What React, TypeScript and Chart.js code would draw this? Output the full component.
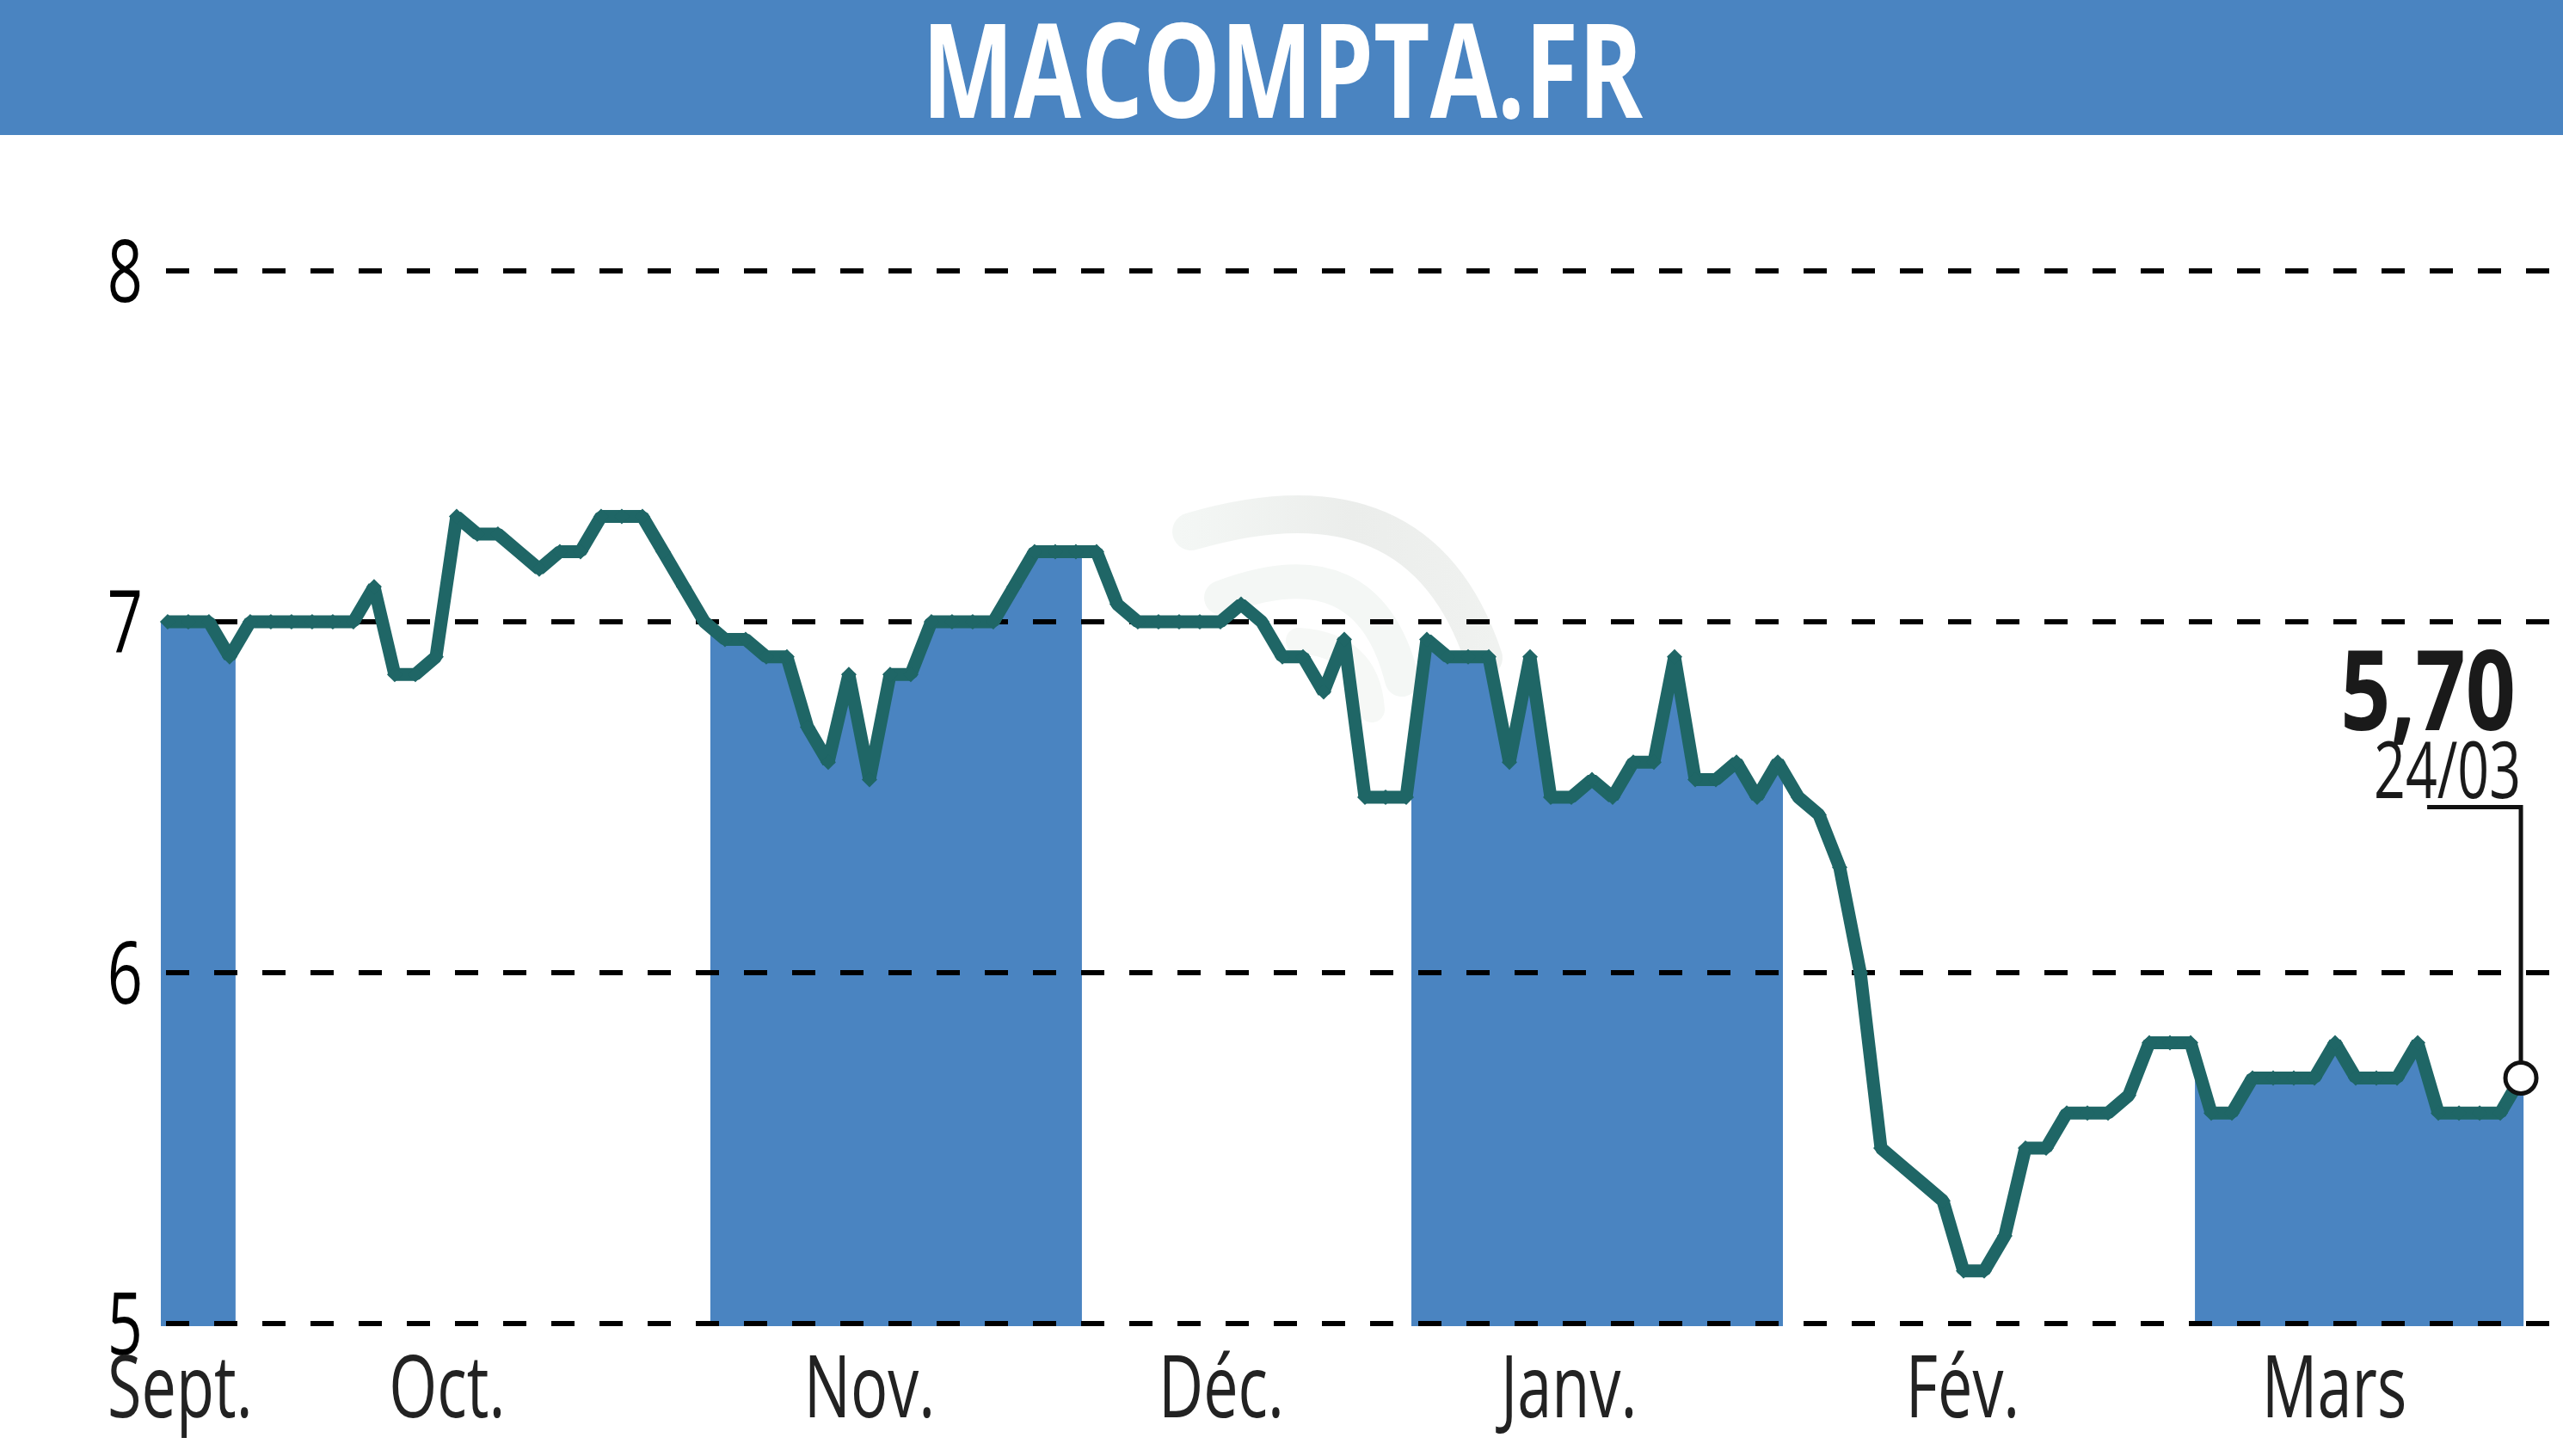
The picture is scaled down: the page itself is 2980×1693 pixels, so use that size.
import React, { useEffect, useRef } from 'react';
import { Chart, type Plugin, registerables } from 'chart.js';

Chart.register(...registerables);

const FONT = '"Open Sans", sans-serif';
const BLUE = '#4a84c1';
const TEAL = '#1f6666';
// the original face is a condensed one, none is installed
const SQUEEZE = 0.72;

const title = 'MACOMPTA.FR';

// one close per trading session, Sept. to 24/03
const closes = [
  7, 7, 7, 6.9, 7, 7, 7, 7, 7, 7,
  7.1, 6.85, 6.85, 6.9, 7.3, 7.25, 7.25, 7.2, 7.15, 7.2,
  7.2, 7.3, 7.3, 7.3, 7.2, 7.1, 7, 6.95, 6.95, 6.9,
  6.9, 6.7, 6.6, 6.85, 6.55, 6.85, 6.85, 7, 7, 7,
  7, 7.1, 7.2, 7.2, 7.2, 7.2, 7.05, 7, 7, 7,
  7, 7, 7.05, 7, 6.9, 6.9, 6.8, 6.95, 6.5, 6.5,
  6.5, 6.95, 6.9, 6.9, 6.9, 6.6, 6.9, 6.5, 6.5, 6.55,
  6.5, 6.6, 6.6, 6.9, 6.55, 6.55, 6.6, 6.5, 6.6, 6.5,
  6.45, 6.3, 6, 5.5, 5.45, 5.4, 5.35, 5.15, 5.15, 5.25,
  5.5, 5.5, 5.6, 5.6, 5.6, 5.65, 5.8, 5.8, 5.8, 5.6,
  5.6, 5.7, 5.7, 5.7, 5.7, 5.8, 5.7, 5.7, 5.7, 5.8,
  5.6, 5.6, 5.6, 5.6, 5.7
];

const monthLabels = ['Sept.', 'Oct.', 'Nov.', 'Déc.', 'Janv.', 'Fév.', 'Mars'];
const monthTicks = [0.6, 13.54, 34, 51.04, 67.88, 86.96, 104.96];

// alternate months are shaded, [from, to] in session numbers
const monthBands = [
  [-0.33, 3.29],
  [26.29, 44.29],
  [60.25, 78.25],
  [98.21, 114.13]
];

const lastValue = '5,70';
const lastDate = '24/03';
const leaderX = [109.46, 114, 114];
const leaderY = [6.472, 6.472, 5.7];

// horizontally squeezed text
const drawText = (
  ctx: CanvasRenderingContext2D,
  text: string,
  x: number,
  y: number,
  font: string,
  color: string,
  align: CanvasTextAlign,
  squeeze = SQUEEZE
) => {
  ctx.save();
  ctx.translate(x, y);
  ctx.scale(squeeze, 1);
  ctx.font = `${font} ${FONT}`;
  ctx.fillStyle = color;
  ctx.textAlign = align;
  ctx.textBaseline = 'alphabetic';
  ctx.fillText(text, 0, 0);
  ctx.restore();
};

const decorPlugin: Plugin<'line'> = {
  id: 'decor',
  beforeDraw(chart) {
    const { ctx, width, scales } = chart;
    const x = scales.x;
    const y = scales.y;

    // header strip
    ctx.save();
    ctx.fillStyle = BLUE;
    ctx.fillRect(0, 0, width, 157);

    // faint logo behind the curve
    ctx.lineCap = 'round';
    const outer = ctx.createLinearGradient(1370, 0, 1740, 0);
    outer.addColorStop(0, '#f4f7f5');
    outer.addColorStop(0.55, '#ebedeb');
    outer.addColorStop(1, '#f0f2f0');
    ctx.strokeStyle = outer;
    ctx.lineWidth = 44;
    ctx.beginPath();
    ctx.moveTo(1385, 618);
    ctx.quadraticCurveTo(1650, 540, 1725, 765);
    ctx.stroke();
    ctx.strokeStyle = '#f4f7f5';
    ctx.lineWidth = 40;
    ctx.beginPath();
    ctx.moveTo(1420, 695);
    ctx.quadraticCurveTo(1590, 630, 1630, 790);
    ctx.stroke();
    ctx.strokeStyle = '#f6f8f6';
    ctx.lineWidth = 30;
    ctx.beginPath();
    ctx.moveTo(1510, 745);
    ctx.quadraticCurveTo(1590, 750, 1595, 825);
    ctx.stroke();
    ctx.restore();

    // area under the curve, only inside the shaded months
    const points = chart.getDatasetMeta(0).data;
    const base = y.getPixelForValue(5) + 3;
    ctx.save();
    ctx.beginPath();
    monthBands.forEach(([from, to]) => {
      const left = x.getPixelForValue(from);
      ctx.rect(left, 0, x.getPixelForValue(to) - left, base);
    });
    ctx.clip();
    ctx.beginPath();
    ctx.moveTo(0, base);
    ctx.lineTo(0, points[0].y);
    points.forEach((p) => ctx.lineTo(p.x, p.y));
    ctx.lineTo(width, points[points.length - 1].y);
    ctx.lineTo(width, base);
    ctx.closePath();
    ctx.fillStyle = BLUE;
    ctx.fill();
    ctx.restore();
  },
  afterDraw(chart) {
    const { ctx, scales } = chart;

    drawText(ctx, title, 1491, 137, 'bold 153px', '#fff', 'center', 0.74);

    scales.y.ticks.forEach((t) => {
      drawText(ctx, String(t.label), 166, scales.y.getPixelForValue(t.value) + 36, '100px', '#000', 'right');
    });
    scales.x.ticks.forEach((t) => {
      drawText(ctx, String(t.label), scales.x.getPixelForValue(t.value), 1648, '100px', '#222', 'center');
    });

    // last quote, above the leader line
    drawText(ctx, lastValue, 2925, 849, 'bold 129px', '#1a1a1a', 'right', 0.79);
    drawText(ctx, lastDate, 2931, 928, '92px', '#1a1a1a', 'right', 0.7);
  }
};

export default function App() {
  const canvasRef = useRef<HTMLCanvasElement>(null);

  useEffect(() => {
    if (!canvasRef.current) return;

    const lastIndex = closes.length - 1;
    const chart = new Chart(canvasRef.current, {
      type: 'line',
      data: {
        datasets: [
          {
            data: closes.map((v, i) => ({ x: i, y: v })),
            borderColor: TEAL,
            borderWidth: 15,
            borderCapStyle: 'butt',
            borderJoinStyle: 'bevel',
            tension: 0,
            clip: false,
            order: 2,
            pointStyle: (c) => (c.dataIndex === lastIndex ? 'circle' : 'rectRot'),
            pointRadius: (c) => (c.dataIndex === lastIndex ? 18 : 9),
            pointBackgroundColor: (c) => (c.dataIndex === lastIndex ? '#fff' : TEAL),
            pointBorderColor: (c) => (c.dataIndex === lastIndex ? '#111' : TEAL),
            pointBorderWidth: (c) => (c.dataIndex === lastIndex ? 5 : 0)
          },
          {
            data: leaderX.map((v, i) => ({ x: v, y: leaderY[i] })),
            borderColor: '#111',
            borderWidth: 5,
            borderJoinStyle: 'miter',
            pointRadius: 0,
            tension: 0,
            order: 3
          }
        ]
      },
      options: {
        responsive: true,
        maintainAspectRatio: false,
        animation: false,
        layout: { autoPadding: false, padding: { top: 315 } },
        plugins: {
          legend: { display: false },
          tooltip: { enabled: false }
        },
        scales: {
          x: {
            type: 'linear',
            min: -0.08,
            max: 116.04,
            afterFit: (s) => {
              s.height = 154;
            },
            afterBuildTicks: (s) => {
              s.ticks = monthTicks.map((value) => ({ value }));
            },
            grid: { display: false },
            border: { display: false },
            ticks: {
              display: false,
              autoSkip: false,
              maxRotation: 0,
              callback: (value) => monthLabels[monthTicks.indexOf(value as number)]
            }
          },
          y: {
            min: 5,
            max: 8,
            afterFit: (s) => {
              s.width = 193;
            },
            grid: { color: '#000', lineWidth: 6, drawTicks: false },
            border: { display: false, dash: [27, 29] },
            ticks: { display: false, stepSize: 1 }
          }
        }
      },
      plugins: [decorPlugin]
    });

    return () => chart.destroy();
  }, []);

  return (
    <div style={{ position: 'fixed', left: 0, top: 0, width: '100vw', height: '100vh', background: '#fff' }}>
      <canvas ref={canvasRef} />
    </div>
  );
}
